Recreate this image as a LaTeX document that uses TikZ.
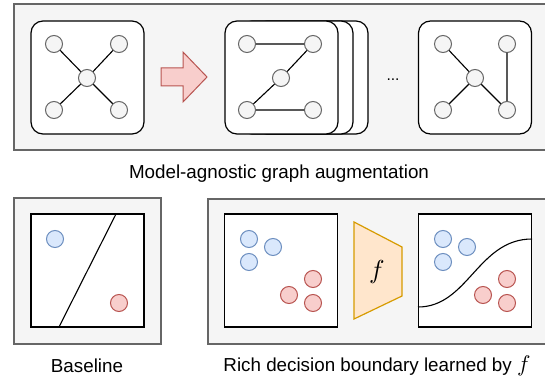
\documentclass[tikz,border=0pt]{standalone}
\usepackage{fontspec}
\setmainfont{Liberation Sans}
\definecolor{panelfill}{HTML}{F5F5F5}
\definecolor{panelline}{HTML}{666666}
\definecolor{bluefill}{HTML}{DAE8FC}
\definecolor{blueline}{HTML}{6C8EBF}
\definecolor{redfill}{HTML}{F8CECC}
\definecolor{redline}{HTML}{B85450}
\definecolor{orfill}{HTML}{FFE6CC}
\definecolor{orline}{HTML}{D79B00}
\newcommand{\bigf}[1]{\scalebox{#1}{\fontsize{10}{12}\selectfont$f$}}
\tikzset{
  panel/.style={draw=panelline, fill=panelfill, line width=1.2pt, rectangle, inner sep=0pt},
  gbox/.style={draw=black, fill=white, line width=1.2pt, rounded corners=12pt, rectangle, minimum width=113pt, minimum height=113pt, inner sep=0pt},
  sqbox/.style={draw=black, fill=white, line width=1.2pt, rectangle, minimum width=113pt, minimum height=113pt, inner sep=0pt},
  gn/.style={circle, draw=panelline, fill=panelfill, line width=1pt, minimum size=17pt, inner sep=0pt},
  bpt/.style={circle, draw=blueline, fill=bluefill, line width=1pt, minimum size=17pt, inner sep=0pt},
  rpt/.style={circle, draw=redline, fill=redfill, line width=1pt, minimum size=17pt, inner sep=0pt},
  ge/.style={draw=black, line width=1.1pt},
  captext/.style={font=\fontsize{18.8}{22}\selectfont, inner sep=0pt},
}
\begin{document}
\begin{tikzpicture}[x=1pt, y=-1pt]
\useasboundingbox (0,0) rectangle (545,379);
\begin{scope}
\clip (0,0) rectangle (545,379);
% top panel
\node[panel, minimum width=540pt, minimum height=146pt] (toppanel) at (284,77) {};
% graph box 1
\node[gbox] (g1) at (87.5,77.5) {};
\node[gn] (a0) at (87,78) {};
\node[gn] (a1) at (54,44) {};
\node[gn] (a2) at (119,44) {};
\node[gn] (a3) at (54,110) {};
\node[gn] (a4) at (119,110) {};
\draw[ge] (a1) -- (a0) (a2) -- (a0) (a3) -- (a0) (a4) -- (a0);
% arrow
\draw[draw=redline, fill=redfill, line width=1pt, line join=miter]
  (161,68) -- (183,68) -- (183,52) -- (207,77) -- (183,102) -- (183,86) -- (161,86) -- cycle;
% stacked boxes
\node[gbox] (g2c) at (311.5,77.5) {};
\node[gbox] (g2b) at (296.5,77.5) {};
\node[gbox] (g2) at (281.5,77.5) {};
\node[gn] (b1) at (247,44) {};
\node[gn] (b2) at (313,44) {};
\node[gn] (b0) at (281,78) {};
\node[gn] (b3) at (247,110) {};
\node[gn] (b4) at (313,110) {};
\draw[ge] (b1) -- (b2) (b2) -- (b0) (b0) -- (b3) (b3) -- (b4);
% dots
\node[font=\fontsize{15.6}{18}\selectfont, inner sep=0pt] (dots) at (393,80) {...};
% last box
\node[gbox] (g3) at (475,77.5) {};
\node[gn] (c1) at (443,44) {};
\node[gn] (c2) at (507,44) {};
\node[gn] (c0) at (475,78) {};
\node[gn] (c3) at (443,110) {};
\node[gn] (c4) at (507,110) {};
\draw[ge] (c1) -- (c0) (c0) -- (c3) (c0) -- (c4) (c2) -- (c4);
% caption
\node[captext] (captop) at (279,174) {Model-agnostic graph augmentation};

% baseline panel
\node[panel, minimum width=147pt, minimum height=146pt] (blpanel) at (87.5,271) {};
\node[sqbox] (s0) at (87.5,270.5) {};
\coordinate (l0a) at (116,214);
\coordinate (l0b) at (59,327);
\draw[ge] (l0a) -- (l0b);
\node[bpt] (p0b) at (55,239) {};
\node[rpt] (p0r) at (119,303) {};
\node[captext] (capbl) at (87,366) {Baseline};

% right panel
\node[panel, minimum width=342pt, minimum height=145pt] (brpanel) at (379,271.5) {};
\node[sqbox] (s1) at (281,270.5) {};
\node[bpt] (q1) at (249,239) {};
\node[bpt] (q2) at (273,247) {};
\node[bpt] (q3) at (249,262) {};
\node[rpt] (q4) at (313,279) {};
\node[rpt] (q5) at (289,295) {};
\node[rpt] (q6) at (313,303) {};
% trapezoid
\draw[draw=orline, fill=orfill, line width=1.2pt, line join=miter]
  (354,222) -- (402,247) -- (402,296) -- (354,319) -- cycle;
\node[inner sep=0pt] (fnode) at (377,272) {\bigf{2.6}};
% right square
\node[sqbox] (s2) at (475,270.5) {};
\node[bpt] (r1) at (443,239) {};
\node[bpt] (r2) at (467,247) {};
\node[bpt] (r3) at (443,262) {};
\node[rpt] (r4) at (507,279) {};
\node[rpt] (r5) at (483,295) {};
\node[rpt] (r6) at (507,303) {};
\coordinate (cva) at (418,307);
\coordinate (cvb) at (532,239);
\draw[ge] (cva) .. controls (468,307) and (478,239) .. (cvb);
\node[captext] (capbr) at (377,366) {Rich decision boundary learned by \bigf{2.25}};
\end{scope}
\end{tikzpicture}
\end{document}
